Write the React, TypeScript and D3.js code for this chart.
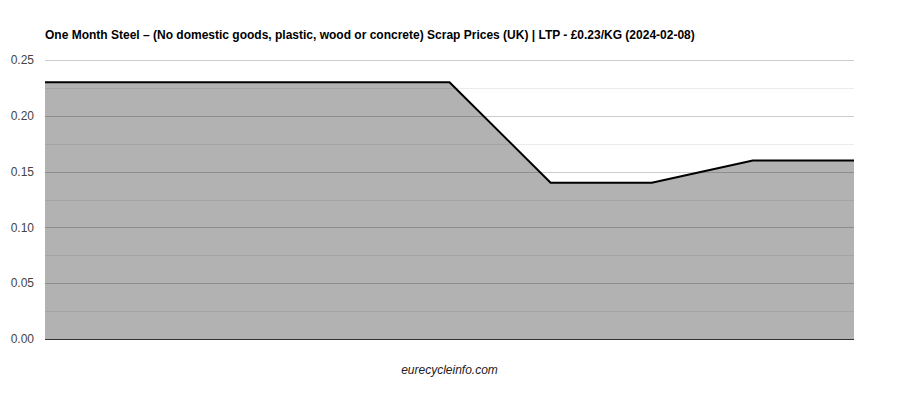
import { useEffect, useRef } from 'react';
import * as d3 from 'd3';

const title =
  'One Month Steel \u2013 (No domestic goods, plastic, wood or concrete) Scrap Prices (UK) | LTP - \u00a30.23/KG (2024-02-08)';
const credit = 'eurecycleinfo.com';

// one point per sample over the month, oldest first
const periods = ['p1', 'p2', 'p3', 'p4', 'p5', 'p6', 'p7', 'p8', 'p9'];
const prices = [0.23, 0.23, 0.23, 0.23, 0.23, 0.14, 0.14, 0.16, 0.16];
const yTicks = [0, 0.05, 0.1, 0.15, 0.2, 0.25];
const yMinorTicks = [0.025, 0.075, 0.125, 0.175, 0.225];

const W = 900;
const H = 400;

export default function App() {
  const svgRef = useRef<SVGSVGElement>(null);

  useEffect(() => {
    if (!svgRef.current) return;
    const svg = d3.select(svgRef.current);
    svg.selectAll('*').remove();

    const margin = { top: 60, right: 46, bottom: 61, left: 45 };
    const innerWidth = W - margin.left - margin.right;
    const innerHeight = H - margin.top - margin.bottom;

    const xScale = d3.scalePoint<string>().domain(periods).range([0, innerWidth]);
    const yScale = d3.scaleLinear().domain([0, 0.25]).range([innerHeight, 0]);

    svg
      .append('text')
      .attr('x', margin.left)
      .attr('y', 39)
      .attr('font-family', 'Arial, "Liberation Sans", sans-serif')
      .attr('font-size', 12)
      .attr('font-weight', 'bold')
      .attr('fill', '#000')
      .text(title);

    const g = svg.append('g').attr('transform', `translate(${margin.left},${margin.top})`);

    // minor grid
    g.selectAll('.grid-minor')
      .data(yMinorTicks)
      .enter()
      .append('line')
      .attr('x1', 0)
      .attr('x2', innerWidth)
      .attr('y1', (d) => Math.round(yScale(d)) + 0.5)
      .attr('y2', (d) => Math.round(yScale(d)) + 0.5)
      .attr('stroke', '#ebebeb')
      .attr('stroke-width', 1);

    // major grid
    g.selectAll('.grid-major')
      .data(yTicks.filter((d) => d > 0))
      .enter()
      .append('line')
      .attr('x1', 0)
      .attr('x2', innerWidth)
      .attr('y1', (d) => Math.round(yScale(d)) + 0.5)
      .attr('y2', (d) => Math.round(yScale(d)) + 0.5)
      .attr('stroke', '#cccccc')
      .attr('stroke-width', 1);

    const data = periods.map((p, i) => ({ p, v: prices[i] }));

    const area = d3
      .area<{ p: string; v: number }>()
      .x((d) => xScale(d.p) as number)
      .y0(yScale(0))
      .y1((d) => yScale(d.v));

    g.append('path').datum(data).attr('fill', '#000').attr('fill-opacity', 0.3).attr('d', area);

    const line = d3
      .line<{ p: string; v: number }>()
      .x((d) => xScale(d.p) as number)
      .y((d) => yScale(d.v));

    g.append('path')
      .datum(data)
      .attr('fill', 'none')
      .attr('stroke', '#000')
      .attr('stroke-width', 2)
      .attr('stroke-linejoin', 'round')
      .attr('d', line);

    // baseline
    g.append('line')
      .attr('x1', 0)
      .attr('x2', innerWidth)
      .attr('y1', Math.round(yScale(0)) + 0.5)
      .attr('y2', Math.round(yScale(0)) + 0.5)
      .attr('stroke', '#333')
      .attr('stroke-width', 1);

    // y labels
    g.selectAll('.ylab')
      .data(yTicks)
      .enter()
      .append('text')
      .attr('x', -11)
      .attr('y', (d) => yScale(d))
      .attr('dy', '0.35em')
      .attr('text-anchor', 'end')
      .attr('font-family', 'Arial, "Liberation Sans", sans-serif')
      .attr('font-size', 12)
      .attr('fill', '#444')
      .text((d) => d3.format('.2f')(d));

    svg
      .append('text')
      .attr('x', margin.left + innerWidth / 2)
      .attr('y', 374)
      .attr('text-anchor', 'middle')
      .attr('font-family', 'Arial, "Liberation Sans", sans-serif')
      .attr('font-size', 12)
      .attr('font-style', 'italic')
      .attr('fill', '#222')
      .text(credit);
  }, []);

  return (
    <svg
      ref={svgRef}
      width={W}
      height={H}
      style={{ position: 'absolute', left: 0, top: 0, display: 'block', background: '#fff' }}
    />
  );
}
